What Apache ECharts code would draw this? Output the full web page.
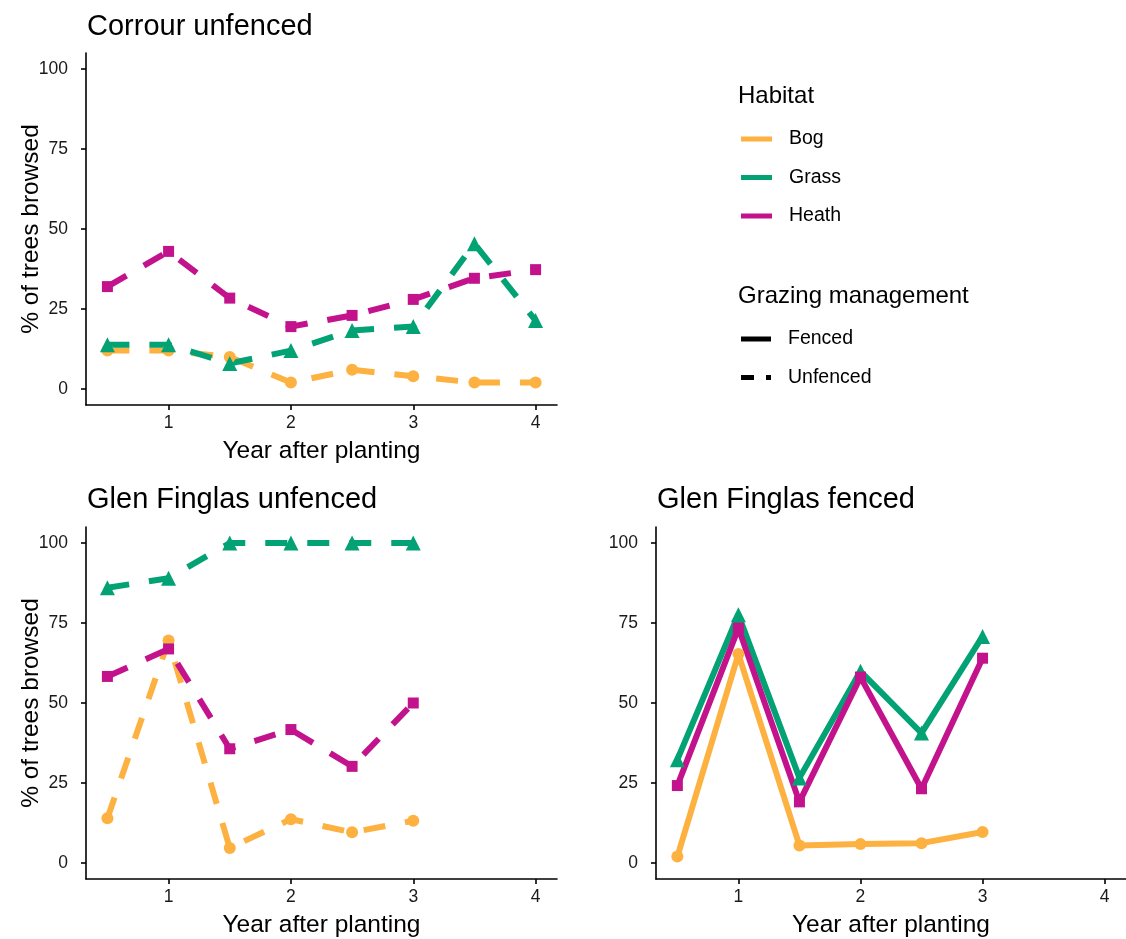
<!DOCTYPE html>
<html>
<head>
<meta charset="utf-8">
<script src="https://cdn.jsdelivr.net/npm/echarts@6/dist/echarts.min.js"></script>
<style>
  html, body { margin: 0; padding: 0; background: #ffffff; }
  #chart { width: 1126px; height: 939px; }
</style>
</head>
<body>
<div id="chart"></div>
<script>
// Years after planting (half-year surveys)
const years = [0.5, 1, 1.5, 2, 2.5, 3, 3.5, 4];
const habitats = ['Bog', 'Grass', 'Heath'];
const xTicks = [1, 2, 3, 4];
const yTicks = [0, 25, 50, 75, 100];

// % of trees browsed — Corrour, unfenced
const corrourUnfencedBog   = [12, 12, 10, 2, 6, 4, 2, 2];
const corrourUnfencedGrass = [13.8, 13.8, 8, 12, 18.3, 19.5, 45.4, 21.4];
const corrourUnfencedHeath = [32, 43, 28.4, 19.5, 23, 28, 34.6, 37.3];

// % of trees browsed — Glen Finglas, unfenced
const glenUnfencedBog   = [14, 69.5, 4.7, 13.7, 9.6, 13.2];
const glenUnfencedGrass = [86, 89, 100, 100, 100, 100];
const glenUnfencedHeath = [58.3, 66.9, 35.7, 41.7, 30.2, 50];

// % of trees browsed — Glen Finglas, fenced
const glenFencedBog   = [2, 65.3, 5.5, 5.9, 6.2, 9.7];
const glenFencedGrass = [32.3, 77.6, 26.6, 59.9, 40.6, 70.8];
const glenFencedHeath = [24.2, 73.4, 19.1, 58.1, 23.2, 64];

const colors = { Bog: '#FDB140', Grass: '#02A274', Heath: '#C3138C' };
const symbols = { Bog: 'circle', Grass: 'triangle', Heath: 'rect' };
const symbolSizes = { Bog: 12, Grass: 15, Heath: 11 };
const FONT = '"Liberation Sans", Arial, sans-serif';

const panels = [
  { title: 'Corrour unfenced', values: [corrourUnfencedBog, corrourUnfencedGrass, corrourUnfencedHeath], dashed: true,
    grid: { left: 86, top: 53, width: 471, height: 352 }, titlePos: { left: 87, top: 12 }, yName: '% of trees browsed' },
  { title: 'Glen Finglas unfenced', values: [glenUnfencedBog, glenUnfencedGrass, glenUnfencedHeath], dashed: true,
    grid: { left: 86, top: 527, width: 471, height: 352 }, titlePos: { left: 87, top: 485 }, yName: '% of trees browsed' },
  { title: 'Glen Finglas fenced', values: [glenFencedBog, glenFencedGrass, glenFencedHeath], dashed: false,
    grid: { left: 656, top: 527, width: 471, height: 352 }, titlePos: { left: 657, top: 485 }, yName: '' }
];

const axisLineStyle = { color: '#000', width: 1.6 };
const tickLabel = { color: '#1a1a1a', fontSize: 17.5, fontFamily: FONT };

const grids = [], xAxes = [], yAxes = [], series = [], titles = [];

panels.forEach((p, i) => {
  grids.push(Object.assign({ containLabel: false }, p.grid));
  titles.push({ text: p.title, left: p.titlePos.left, top: p.titlePos.top, padding: 0,
    textStyle: { fontSize: 29, fontWeight: 'normal', color: '#000', fontFamily: FONT } });
  xAxes.push({
    type: 'value', gridIndex: i, min: 0.325, max: 4.175,
    name: 'Year after planting', nameLocation: 'middle', nameGap: 34,
    nameTextStyle: { fontSize: 24.5, color: '#000', fontFamily: FONT },
    axisLine: { show: true, onZero: false, lineStyle: axisLineStyle },
    axisTick: { show: true, length: 5, customValues: xTicks, lineStyle: axisLineStyle },
    axisLabel: Object.assign({ customValues: xTicks, margin: 9 }, tickLabel),
    splitLine: { show: false }
  });
  yAxes.push({
    type: 'value', gridIndex: i, min: -5, max: 105,
    name: p.yName, nameLocation: 'middle', nameGap: 42, nameRotate: 90, nameMoveOverlap: false,
    nameTextStyle: { fontSize: 24.5, color: '#000', fontFamily: FONT },
    axisLine: { show: true, onZero: false, lineStyle: axisLineStyle },
    axisTick: { show: true, length: 5, customValues: yTicks, lineStyle: axisLineStyle },
    axisLabel: Object.assign({ customValues: yTicks, margin: 18 }, tickLabel),
    splitLine: { show: false }
  });
  // lines first, then points on top
  habitats.forEach((h, k) => {
    const pts = p.values[k].map((v, j) => [years[j], v]);
    series.push({
      type: 'line', name: h, xAxisIndex: i, yAxisIndex: i, data: pts,
      showSymbol: false, symbol: 'none', z: 2 + k * 0.01, silent: true,
      color: colors[h],
      lineStyle: { width: 6, color: colors[h], type: p.dashed ? [22, 20] : 'solid', cap: 'butt', join: 'round' }
    });
  });
  habitats.forEach((h, k) => {
    const pts = p.values[k].map((v, j) => [years[j], v]);
    series.push({
      type: 'scatter', name: h, xAxisIndex: i, yAxisIndex: i, data: pts,
      symbol: symbols[h], symbolSize: symbolSizes[h], z: 4, silent: true,
      itemStyle: { color: colors[h], opacity: 1 }, color: colors[h]
    });
  });
});

// entries used only for the grazing-management legend
series.push({ type: 'line', name: 'Fenced', data: [], color: '#000', xAxisIndex: 0, yAxisIndex: 0 });
series.push({ type: 'line', name: 'Unfenced', data: [], color: '#000', xAxisIndex: 0, yAxisIndex: 0 });

titles.push({ text: 'Habitat', left: 738, top: 84, padding: 0,
  textStyle: { fontSize: 24, fontWeight: 'normal', color: '#000', fontFamily: FONT } });
titles.push({ text: 'Grazing management', left: 738, top: 284, padding: 0,
  textStyle: { fontSize: 24, fontWeight: 'normal', color: '#000', fontFamily: FONT } });

const legendText = { fontSize: 19.5, color: '#000', fontFamily: FONT, lineHeight: 20, padding: [0, 0, 0, 12] };

const option = {
  animation: false,
  backgroundColor: '#ffffff',
  title: titles,
  grid: grids,
  xAxis: xAxes,
  yAxis: yAxes,
  legend: [
    { orient: 'vertical', left: 736, top: 124, itemWidth: 31, itemHeight: 5, itemGap: 18.5,
      selectedMode: false, textStyle: legendText,
      data: habitats.map(h => ({ name: h, icon: 'rect' })) },
    { orient: 'vertical', left: 736, top: 324, itemWidth: 30, itemHeight: 5, itemGap: 18.5,
      selectedMode: false, textStyle: legendText,
      data: [
        { name: 'Fenced', icon: 'rect' },
        { name: 'Unfenced', icon: 'path://M0,0H13V5H0Z M25,0H30V5H25Z' }
      ] }
  ],
  series: series
};

const chart = echarts.init(document.getElementById('chart'), null, { renderer: 'canvas' });
chart.setOption(option);
</script>
</body>
</html>
